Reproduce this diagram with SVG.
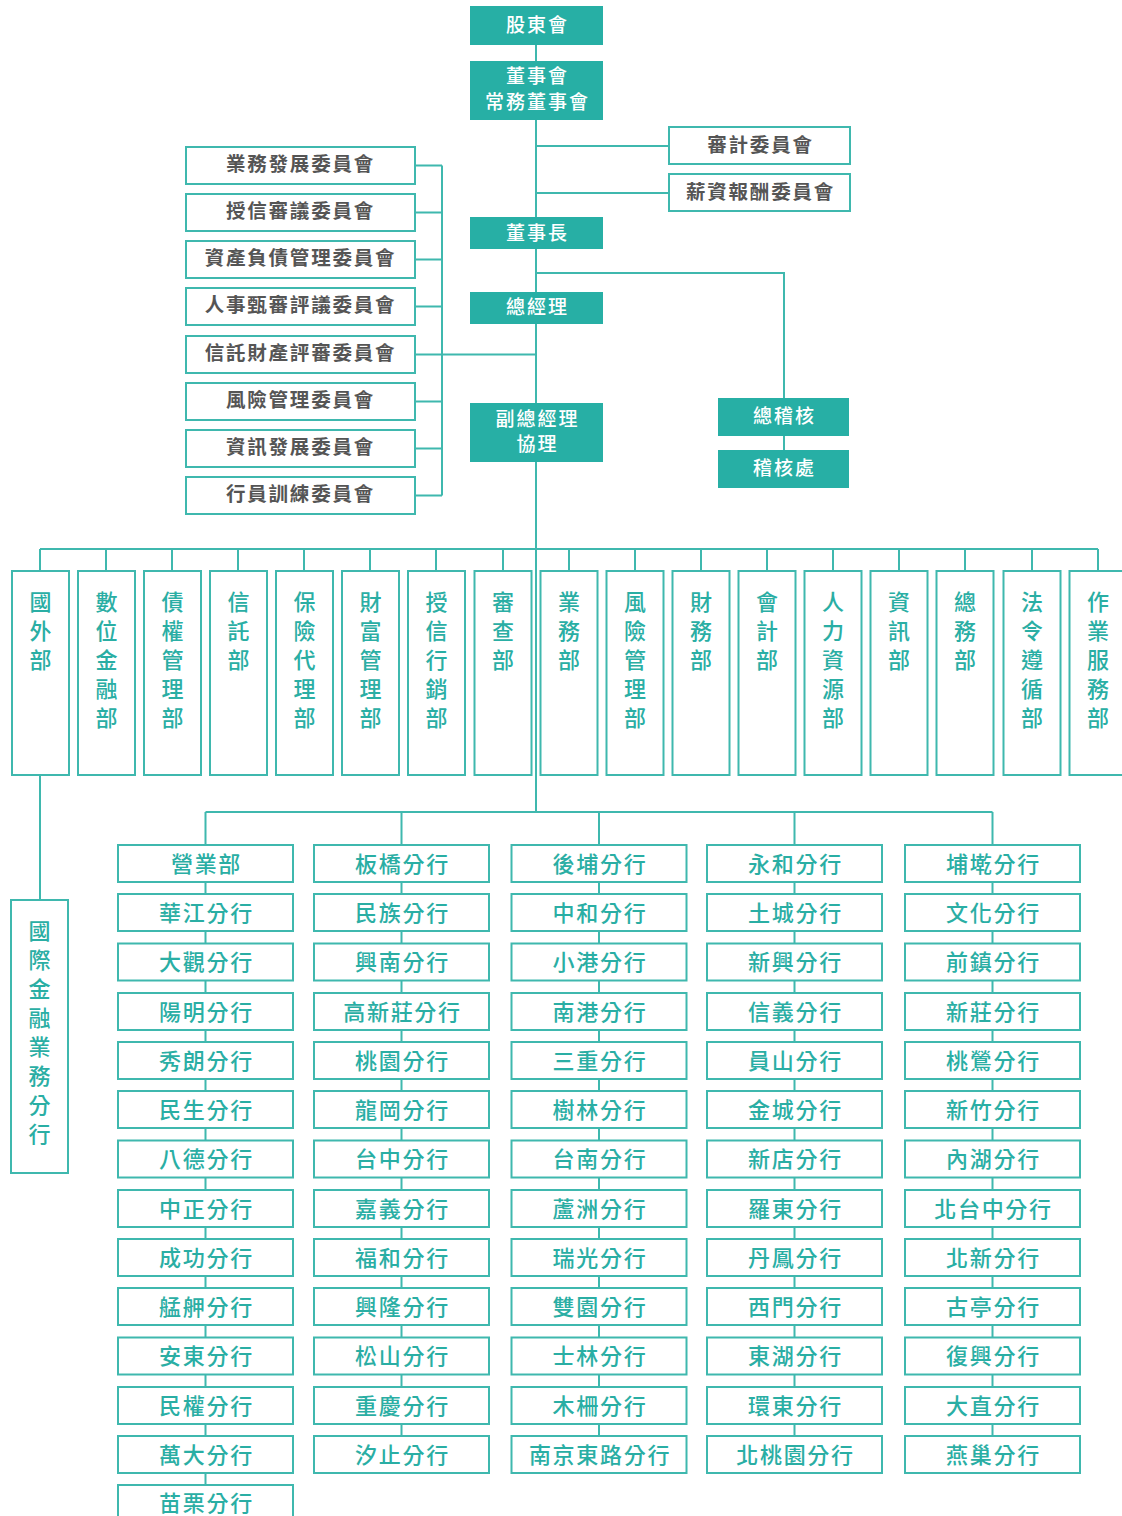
<svg xmlns="http://www.w3.org/2000/svg" width="1122" height="1516" viewBox="0 0 1122 1516">
<style>
text{font-family:"Noto Sans CJK TC","Noto Sans CJK SC",sans-serif;dominant-baseline:central;text-anchor:middle;transform:translateY(-2px)}
.ln{stroke:#3fb8ae;stroke-width:2;fill:none}
.fb{fill:#27afa5}
.ft{fill:#fff;font-size:19px;font-weight:500;letter-spacing:2px}
.cb{fill:#fff;stroke:#3fb8ae;stroke-width:2}
.ct{fill:#555;font-size:19.5px;font-weight:700;letter-spacing:1.8px}
.db{fill:#fff;stroke:#3fb8ae;stroke-width:2}
.dt{fill:#2aaea4;font-size:22px;font-weight:500}
.br{fill:#fff;stroke:#3fb8ae;stroke-width:2}
.bt{fill:#2aaea4;font-size:22px;font-weight:500;letter-spacing:1.7px}
</style>
<g id="connectors">
<path class="ln" d="M536,45V812"/>
<path class="ln" d="M536,146H669M536,193H669"/>
<path class="ln" d="M415,165.5H442M415,212.5H442M415,259.5H442M415,306.5H442M415,354.5H536M415,401.5H442M415,448.5H442M415,495.5H442M442,165.5V495.5"/>
<path class="ln" d="M536,273H784V450"/>
<path class="ln" d="M40,549H1098M40,549V571M106,549V571M172,549V571M238,549V571M304,549V571M370,549V571M436,549V571M503,549V571M569,549V571M635,549V571M701,549V571M767,549V571M833,549V571M899,549V571M965,549V571M1032,549V571M1098,549V571"/>
<path class="ln" d="M40,775V900"/>
<path class="ln" d="M205.5,812H992.5M205.5,812V1485M401.5,812V1436M599,812V1436M794.5,812V1436M992.5,812V1436"/>
</g>
<g id="n-gudong"><rect class="fb" x="470" y="6" width="133" height="39"/><text class="ft" x="537.5" y="25.5">股東會</text></g>
<g id="n-board"><rect class="fb" x="470" y="61" width="133" height="59"/><text class="ft" x="537.5" y="76.5">董事會</text><text class="ft" x="537.5" y="102">常務董事會</text></g>
<g id="n-audit-c"><rect class="cb" x="669" y="127" width="181" height="37"/><text class="ct" x="760.5" y="145">審計委員會</text></g>
<g id="n-pay-c"><rect class="cb" x="669" y="174" width="181" height="37"/><text class="ct" x="760.5" y="192.5">薪資報酬委員會</text></g>
<g id="n-chair"><rect class="fb" x="470" y="217" width="133" height="32"/><text class="ft" x="537.5" y="233">董事長</text></g>
<g id="n-gm"><rect class="fb" x="470" y="292" width="133" height="32"/><text class="ft" x="537.5" y="307">總經理</text></g>
<g id="n-vgm"><rect class="fb" x="470" y="403" width="133" height="59"/><text class="ft" x="537.5" y="419">副總經理</text><text class="ft" x="537.5" y="444">協理</text></g>
<g id="n-chief-audit"><rect class="fb" x="718" y="398" width="131" height="38"/><text class="ft" x="784.5" y="416">總稽核</text></g>
<g id="n-audit-dept"><rect class="fb" x="718" y="450" width="131" height="38"/><text class="ft" x="784.5" y="468">稽核處</text></g>
<g id="committees">
<g id="c1"><rect class="cb" x="186" y="147" width="229" height="37"/><text class="ct" x="300.5" y="164.5">業務發展委員會</text></g>
<g id="c2"><rect class="cb" x="186" y="194" width="229" height="37"/><text class="ct" x="300.5" y="211.5">授信審議委員會</text></g>
<g id="c3"><rect class="cb" x="186" y="241" width="229" height="37"/><text class="ct" x="300.5" y="258.5">資產負債管理委員會</text></g>
<g id="c4"><rect class="cb" x="186" y="288" width="229" height="37"/><text class="ct" x="300.5" y="305.5">人事甄審評議委員會</text></g>
<g id="c5"><rect class="cb" x="186" y="336" width="229" height="37"/><text class="ct" x="300.5" y="353.5">信託財產評審委員會</text></g>
<g id="c6"><rect class="cb" x="186" y="383" width="229" height="37"/><text class="ct" x="300.5" y="400.5">風險管理委員會</text></g>
<g id="c7"><rect class="cb" x="186" y="430" width="229" height="37"/><text class="ct" x="300.5" y="447.5">資訊發展委員會</text></g>
<g id="c8"><rect class="cb" x="186" y="477" width="229" height="37"/><text class="ct" x="300.5" y="494.5">行員訓練委員會</text></g>
</g>
<g id="departments">
<g id="d1"><rect class="db" x="12" y="571" width="57" height="204"/><text class="dt"><tspan x="40.5" y="602">國</tspan><tspan x="40.5" y="631">外</tspan><tspan x="40.5" y="660">部</tspan></text></g>
<g id="d2"><rect class="db" x="78" y="571" width="57" height="204"/><text class="dt"><tspan x="106.5" y="602">數</tspan><tspan x="106.5" y="631">位</tspan><tspan x="106.5" y="660">金</tspan><tspan x="106.5" y="689">融</tspan><tspan x="106.5" y="718">部</tspan></text></g>
<g id="d3"><rect class="db" x="144" y="571" width="57" height="204"/><text class="dt"><tspan x="172.5" y="602">債</tspan><tspan x="172.5" y="631">權</tspan><tspan x="172.5" y="660">管</tspan><tspan x="172.5" y="689">理</tspan><tspan x="172.5" y="718">部</tspan></text></g>
<g id="d4"><rect class="db" x="210" y="571" width="57" height="204"/><text class="dt"><tspan x="238.5" y="602">信</tspan><tspan x="238.5" y="631">託</tspan><tspan x="238.5" y="660">部</tspan></text></g>
<g id="d5"><rect class="db" x="276" y="571" width="57" height="204"/><text class="dt"><tspan x="304.5" y="602">保</tspan><tspan x="304.5" y="631">險</tspan><tspan x="304.5" y="660">代</tspan><tspan x="304.5" y="689">理</tspan><tspan x="304.5" y="718">部</tspan></text></g>
<g id="d6"><rect class="db" x="342" y="571" width="57" height="204"/><text class="dt"><tspan x="370.5" y="602">財</tspan><tspan x="370.5" y="631">富</tspan><tspan x="370.5" y="660">管</tspan><tspan x="370.5" y="689">理</tspan><tspan x="370.5" y="718">部</tspan></text></g>
<g id="d7"><rect class="db" x="408" y="571" width="57" height="204"/><text class="dt"><tspan x="436.5" y="602">授</tspan><tspan x="436.5" y="631">信</tspan><tspan x="436.5" y="660">行</tspan><tspan x="436.5" y="689">銷</tspan><tspan x="436.5" y="718">部</tspan></text></g>
<g id="d8"><rect class="db" x="474.5" y="571" width="57" height="204"/><text class="dt"><tspan x="503" y="602">審</tspan><tspan x="503" y="631">查</tspan><tspan x="503" y="660">部</tspan></text></g>
<g id="d9"><rect class="db" x="540.5" y="571" width="57" height="204"/><text class="dt"><tspan x="569" y="602">業</tspan><tspan x="569" y="631">務</tspan><tspan x="569" y="660">部</tspan></text></g>
<g id="d10"><rect class="db" x="606.5" y="571" width="57" height="204"/><text class="dt"><tspan x="635" y="602">風</tspan><tspan x="635" y="631">險</tspan><tspan x="635" y="660">管</tspan><tspan x="635" y="689">理</tspan><tspan x="635" y="718">部</tspan></text></g>
<g id="d11"><rect class="db" x="672.5" y="571" width="57" height="204"/><text class="dt"><tspan x="701" y="602">財</tspan><tspan x="701" y="631">務</tspan><tspan x="701" y="660">部</tspan></text></g>
<g id="d12"><rect class="db" x="738.5" y="571" width="57" height="204"/><text class="dt"><tspan x="767" y="602">會</tspan><tspan x="767" y="631">計</tspan><tspan x="767" y="660">部</tspan></text></g>
<g id="d13"><rect class="db" x="804.5" y="571" width="57" height="204"/><text class="dt"><tspan x="833" y="602">人</tspan><tspan x="833" y="631">力</tspan><tspan x="833" y="660">資</tspan><tspan x="833" y="689">源</tspan><tspan x="833" y="718">部</tspan></text></g>
<g id="d14"><rect class="db" x="870.5" y="571" width="57" height="204"/><text class="dt"><tspan x="899" y="602">資</tspan><tspan x="899" y="631">訊</tspan><tspan x="899" y="660">部</tspan></text></g>
<g id="d15"><rect class="db" x="936.5" y="571" width="57" height="204"/><text class="dt"><tspan x="965" y="602">總</tspan><tspan x="965" y="631">務</tspan><tspan x="965" y="660">部</tspan></text></g>
<g id="d16"><rect class="db" x="1003.5" y="571" width="57" height="204"/><text class="dt"><tspan x="1032" y="602">法</tspan><tspan x="1032" y="631">令</tspan><tspan x="1032" y="660">遵</tspan><tspan x="1032" y="689">循</tspan><tspan x="1032" y="718">部</tspan></text></g>
<g id="d17"><rect class="db" x="1069.5" y="571" width="57" height="204"/><text class="dt"><tspan x="1098" y="602">作</tspan><tspan x="1098" y="631">業</tspan><tspan x="1098" y="660">服</tspan><tspan x="1098" y="689">務</tspan><tspan x="1098" y="718">部</tspan></text></g>
<g id="d-obu"><rect class="db" x="11" y="900" width="57" height="273"/><text class="dt"><tspan x="39.5" y="931">國</tspan><tspan x="39.5" y="960">際</tspan><tspan x="39.5" y="989">金</tspan><tspan x="39.5" y="1018">融</tspan><tspan x="39.5" y="1047">業</tspan><tspan x="39.5" y="1076">務</tspan><tspan x="39.5" y="1105">分</tspan><tspan x="39.5" y="1134">行</tspan></text></g>
</g>
<g id="branches-col1" transform="translate(118,0)">
<g id="b1-1"><rect class="br" y="845" width="175" height="37"/><text class="bt" x="88.5" y="863.5">營業部</text></g>
<g id="b1-2"><rect class="br" y="894" width="175" height="37"/><text class="bt" x="88.5" y="912.5">華江分行</text></g>
<g id="b1-3"><rect class="br" y="943.5" width="175" height="37"/><text class="bt" x="88.5" y="962">大觀分行</text></g>
<g id="b1-4"><rect class="br" y="993" width="175" height="37"/><text class="bt" x="88.5" y="1011.5">陽明分行</text></g>
<g id="b1-5"><rect class="br" y="1042" width="175" height="37"/><text class="bt" x="88.5" y="1060.5">秀朗分行</text></g>
<g id="b1-6"><rect class="br" y="1091" width="175" height="37"/><text class="bt" x="88.5" y="1109.5">民生分行</text></g>
<g id="b1-7"><rect class="br" y="1140.5" width="175" height="37"/><text class="bt" x="88.5" y="1159">八德分行</text></g>
<g id="b1-8"><rect class="br" y="1190" width="175" height="37"/><text class="bt" x="88.5" y="1208.5">中正分行</text></g>
<g id="b1-9"><rect class="br" y="1239" width="175" height="37"/><text class="bt" x="88.5" y="1257.5">成功分行</text></g>
<g id="b1-10"><rect class="br" y="1288" width="175" height="37"/><text class="bt" x="88.5" y="1306.5">艋舺分行</text></g>
<g id="b1-11"><rect class="br" y="1337.5" width="175" height="37"/><text class="bt" x="88.5" y="1356">安東分行</text></g>
<g id="b1-12"><rect class="br" y="1387" width="175" height="37"/><text class="bt" x="88.5" y="1405.5">民權分行</text></g>
<g id="b1-13"><rect class="br" y="1436" width="175" height="37"/><text class="bt" x="88.5" y="1454.5">萬大分行</text></g>
<g id="b1-14"><rect class="br" y="1485" width="175" height="37"/><text class="bt" x="88.5" y="1503">苗栗分行</text></g>
</g>
<g id="branches-col2" transform="translate(314,0)">
<g id="b2-1"><rect class="br" y="845" width="175" height="37"/><text class="bt" x="88.5" y="863.5">板橋分行</text></g>
<g id="b2-2"><rect class="br" y="894" width="175" height="37"/><text class="bt" x="88.5" y="912.5">民族分行</text></g>
<g id="b2-3"><rect class="br" y="943.5" width="175" height="37"/><text class="bt" x="88.5" y="962">興南分行</text></g>
<g id="b2-4"><rect class="br" y="993" width="175" height="37"/><text class="bt" x="88.5" y="1011.5">高新莊分行</text></g>
<g id="b2-5"><rect class="br" y="1042" width="175" height="37"/><text class="bt" x="88.5" y="1060.5">桃園分行</text></g>
<g id="b2-6"><rect class="br" y="1091" width="175" height="37"/><text class="bt" x="88.5" y="1109.5">龍岡分行</text></g>
<g id="b2-7"><rect class="br" y="1140.5" width="175" height="37"/><text class="bt" x="88.5" y="1159">台中分行</text></g>
<g id="b2-8"><rect class="br" y="1190" width="175" height="37"/><text class="bt" x="88.5" y="1208.5">嘉義分行</text></g>
<g id="b2-9"><rect class="br" y="1239" width="175" height="37"/><text class="bt" x="88.5" y="1257.5">福和分行</text></g>
<g id="b2-10"><rect class="br" y="1288" width="175" height="37"/><text class="bt" x="88.5" y="1306.5">興隆分行</text></g>
<g id="b2-11"><rect class="br" y="1337.5" width="175" height="37"/><text class="bt" x="88.5" y="1356">松山分行</text></g>
<g id="b2-12"><rect class="br" y="1387" width="175" height="37"/><text class="bt" x="88.5" y="1405.5">重慶分行</text></g>
<g id="b2-13"><rect class="br" y="1436" width="175" height="37"/><text class="bt" x="88.5" y="1454.5">汐止分行</text></g>
</g>
<g id="branches-col3" transform="translate(511.5,0)">
<g id="b3-1"><rect class="br" y="845" width="175" height="37"/><text class="bt" x="88.5" y="863.5">後埔分行</text></g>
<g id="b3-2"><rect class="br" y="894" width="175" height="37"/><text class="bt" x="88.5" y="912.5">中和分行</text></g>
<g id="b3-3"><rect class="br" y="943.5" width="175" height="37"/><text class="bt" x="88.5" y="962">小港分行</text></g>
<g id="b3-4"><rect class="br" y="993" width="175" height="37"/><text class="bt" x="88.5" y="1011.5">南港分行</text></g>
<g id="b3-5"><rect class="br" y="1042" width="175" height="37"/><text class="bt" x="88.5" y="1060.5">三重分行</text></g>
<g id="b3-6"><rect class="br" y="1091" width="175" height="37"/><text class="bt" x="88.5" y="1109.5">樹林分行</text></g>
<g id="b3-7"><rect class="br" y="1140.5" width="175" height="37"/><text class="bt" x="88.5" y="1159">台南分行</text></g>
<g id="b3-8"><rect class="br" y="1190" width="175" height="37"/><text class="bt" x="88.5" y="1208.5">蘆洲分行</text></g>
<g id="b3-9"><rect class="br" y="1239" width="175" height="37"/><text class="bt" x="88.5" y="1257.5">瑞光分行</text></g>
<g id="b3-10"><rect class="br" y="1288" width="175" height="37"/><text class="bt" x="88.5" y="1306.5">雙園分行</text></g>
<g id="b3-11"><rect class="br" y="1337.5" width="175" height="37"/><text class="bt" x="88.5" y="1356">士林分行</text></g>
<g id="b3-12"><rect class="br" y="1387" width="175" height="37"/><text class="bt" x="88.5" y="1405.5">木柵分行</text></g>
<g id="b3-13"><rect class="br" y="1436" width="175" height="37"/><text class="bt" x="88.5" y="1454.5">南京東路分行</text></g>
</g>
<g id="branches-col4" transform="translate(707,0)">
<g id="b4-1"><rect class="br" y="845" width="175" height="37"/><text class="bt" x="88.5" y="863.5">永和分行</text></g>
<g id="b4-2"><rect class="br" y="894" width="175" height="37"/><text class="bt" x="88.5" y="912.5">土城分行</text></g>
<g id="b4-3"><rect class="br" y="943.5" width="175" height="37"/><text class="bt" x="88.5" y="962">新興分行</text></g>
<g id="b4-4"><rect class="br" y="993" width="175" height="37"/><text class="bt" x="88.5" y="1011.5">信義分行</text></g>
<g id="b4-5"><rect class="br" y="1042" width="175" height="37"/><text class="bt" x="88.5" y="1060.5">員山分行</text></g>
<g id="b4-6"><rect class="br" y="1091" width="175" height="37"/><text class="bt" x="88.5" y="1109.5">金城分行</text></g>
<g id="b4-7"><rect class="br" y="1140.5" width="175" height="37"/><text class="bt" x="88.5" y="1159">新店分行</text></g>
<g id="b4-8"><rect class="br" y="1190" width="175" height="37"/><text class="bt" x="88.5" y="1208.5">羅東分行</text></g>
<g id="b4-9"><rect class="br" y="1239" width="175" height="37"/><text class="bt" x="88.5" y="1257.5">丹鳳分行</text></g>
<g id="b4-10"><rect class="br" y="1288" width="175" height="37"/><text class="bt" x="88.5" y="1306.5">西門分行</text></g>
<g id="b4-11"><rect class="br" y="1337.5" width="175" height="37"/><text class="bt" x="88.5" y="1356">東湖分行</text></g>
<g id="b4-12"><rect class="br" y="1387" width="175" height="37"/><text class="bt" x="88.5" y="1405.5">環東分行</text></g>
<g id="b4-13"><rect class="br" y="1436" width="175" height="37"/><text class="bt" x="88.5" y="1454.5">北桃園分行</text></g>
</g>
<g id="branches-col5" transform="translate(905,0)">
<g id="b5-1"><rect class="br" y="845" width="175" height="37"/><text class="bt" x="88.5" y="863.5">埔墘分行</text></g>
<g id="b5-2"><rect class="br" y="894" width="175" height="37"/><text class="bt" x="88.5" y="912.5">文化分行</text></g>
<g id="b5-3"><rect class="br" y="943.5" width="175" height="37"/><text class="bt" x="88.5" y="962">前鎮分行</text></g>
<g id="b5-4"><rect class="br" y="993" width="175" height="37"/><text class="bt" x="88.5" y="1011.5">新莊分行</text></g>
<g id="b5-5"><rect class="br" y="1042" width="175" height="37"/><text class="bt" x="88.5" y="1060.5">桃鶯分行</text></g>
<g id="b5-6"><rect class="br" y="1091" width="175" height="37"/><text class="bt" x="88.5" y="1109.5">新竹分行</text></g>
<g id="b5-7"><rect class="br" y="1140.5" width="175" height="37"/><text class="bt" x="88.5" y="1159">內湖分行</text></g>
<g id="b5-8"><rect class="br" y="1190" width="175" height="37"/><text class="bt" x="88.5" y="1208.5">北台中分行</text></g>
<g id="b5-9"><rect class="br" y="1239" width="175" height="37"/><text class="bt" x="88.5" y="1257.5">北新分行</text></g>
<g id="b5-10"><rect class="br" y="1288" width="175" height="37"/><text class="bt" x="88.5" y="1306.5">古亭分行</text></g>
<g id="b5-11"><rect class="br" y="1337.5" width="175" height="37"/><text class="bt" x="88.5" y="1356">復興分行</text></g>
<g id="b5-12"><rect class="br" y="1387" width="175" height="37"/><text class="bt" x="88.5" y="1405.5">大直分行</text></g>
<g id="b5-13"><rect class="br" y="1436" width="175" height="37"/><text class="bt" x="88.5" y="1454.5">燕巢分行</text></g>
</g>
</svg>
